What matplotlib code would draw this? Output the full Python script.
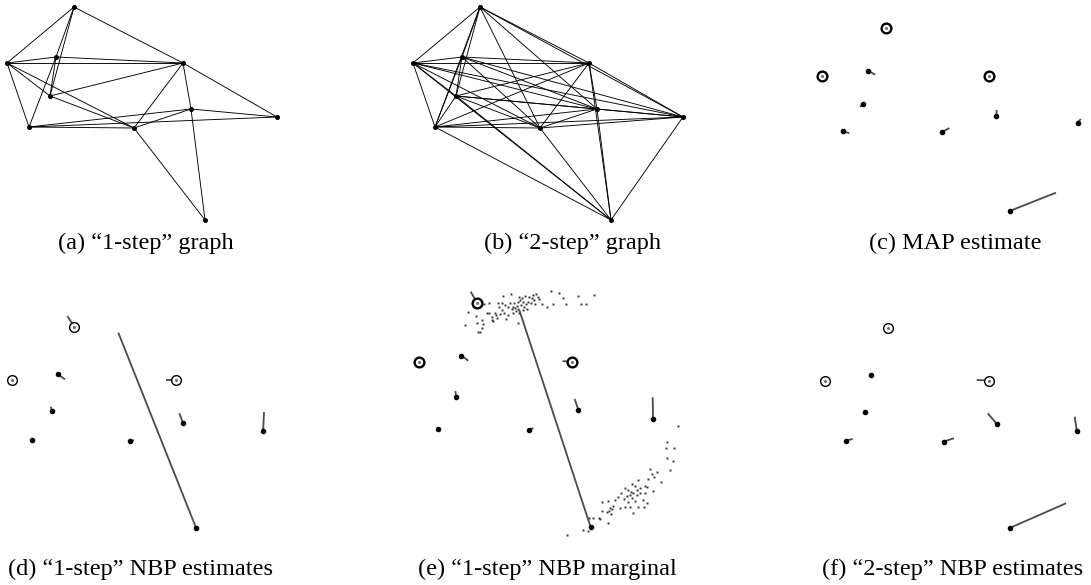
import numpy as np
import matplotlib.pyplot as plt

# --------------------------------------------------------
# Data: true sensor positions (common units, y grows downward)
# --------------------------------------------------------
node_x = [74, 7, 56, 183, 50, 29, 134, 191, 277, 205]
node_y = [7, 63, 57, 63, 96, 127, 128, 109, 117, 220]
anchors = [0, 1, 3]

# "1-step" connectivity (pairs of node indices)
edges_1step = [(0, 1), (0, 2), (0, 3), (0, 4), (1, 2), (1, 3), (1, 4), (1, 5),
               (1, 6), (2, 3), (2, 4), (2, 5), (3, 4), (3, 6), (3, 7), (3, 8),
               (4, 6), (5, 6), (5, 7), (5, 8), (6, 7), (6, 9), (7, 8), (7, 9)]

nan = np.nan
# location estimates (nan = same as true position)
map_est_x = [nan, nan, 63.2, nan, 47.0, 35.8, 141.2, 191.2, 279.9, 253.8]
map_est_y = [nan, nan, 61.3, nan, 98.6, 129.6, 123.4, 102.4, 112.9, 198.7]

nbp1_est_x = [66.5, nan, 64.0, 172.6, 48.6, nan, 138.2, 186.9, 278.0, 121.3]
nbp1_est_y = [-4.7, nan, 62.4, 63.1, 91.4, nan, 126.9, 98.4, 97.1, 13.0]

marg_est_x = [66.7, nan, 63.9, 172.8, 48.9, nan, 138.9, 186.6, 276.6, 122.7]
marg_est_y = [-3.7, nan, 61.9, 62.2, 90.7, nan, 125.9, 98.3, 96.7, 13.7]

nbp2_est_x = [nan, nan, nan, 169.6, 48.0, 36.7, 145.2, 181.3, 274.6, 265.3]
nbp2_est_y = [nan, nan, nan, 62.4, 98.6, 125.2, 124.5, 97.9, 101.5, 193.7]

# marginal samples of the bimodal sensor (panel e)
sample_x = [60.1, 63.2, 72.4, 73.6, 74.7, 79.3, 80.5, 80.1, 82.4, 85.1, 87.8, 88.2,
            90.9, 91.6, 92.8, 94.7, 95.9, 97.4, 98.5, 99.7, 100.5, 102.4, 102.8,
            104.3, 105.5, 106.2, 107.4, 109.3, 110.1, 112.0, 113.2, 113.9, 115.1,
            115.8, 116.6, 117.8, 118.9, 119.7, 120.8, 121.6, 122.4, 122.8, 123.5,
            124.3, 125.5, 126.6, 127.4, 128.5, 129.3, 130.5, 132.0, 133.1, 134.3,
            135.8, 137.0, 138.2, 140.1, 140.8, 142.0, 143.9, 145.8, 148.5, 154.3,
            159.3, 161.2, 168.9, 173.5, 176.6, 190.8, 193.5, 199.7, 209.3, 121.6,
            77.4,
            305.4, 293.5, 292.0, 301.6, 293.5, 300.4, 296.6, 273.5, 281.2, 275.4,
            278.5, 271.6, 285.8, 259.3, 252.3, 256.2, 267.7, 270.4, 262.0, 258.1,
            276.6, 244.6, 248.5, 251.6, 254.3, 258.1, 262.0, 267.7, 240.0, 246.6,
            250.4, 237.0, 243.9, 252.3, 256.2, 265.8, 270.4, 248.5, 244.6, 250.4,
            260.0, 267.0, 238.9, 233.1, 224.7, 217.7, 231.2, 227.3, 226.2, 230.0,
            223.5, 217.7, 228.1, 254.3, 215.0, 215.8, 207.3, 203.5, 224.7, 195.8,
            202.4, 177.4]
sample_y = [28.0, 15.9, 19.1, 26.4, 34.6, 23.2, 27.3, 31.1, 8.3, 16.9, 7.4, 16.2,
            23.2, 20.0, 24.2, 16.9, 18.5, 21.6, 6.7, 10.5, 17.8, 7.4, 13.7,
            0.4, 16.9, 9.0, 22.6, 18.5, 11.2, 7.4, -1.2, 13.1, 16.2,
            10.5, 6.7, 12.1, 14.3, 9.9, 5.8, 13.1, 1.0, 16.9, 4.2,
            9.0, 2.6, 13.7, 5.8, 10.5, 0.4, 8.0, 13.1, 5.8, 1.0,
            7.4, 2.6, -0.6, 4.2, 8.3, -1.5, 1.0, 3.6, 8.3, 11.2,
            -4.7, 8.3, -2.8, 2.0, 8.3, 0.4, 8.3, 8.3, -0.6, 26.4,
            34.9,
            123.6, 138.9, 145.2, 144.6, 154.1, 156.9, 165.8, 164.8, 167.4, 169.6,
            172.1, 174.7, 177.5, 175.3, 179.1, 181.0, 181.0, 182.3, 183.2, 184.8,
            185.4, 183.2, 184.8, 186.4, 188.0, 189.6, 188.0, 188.0, 188.0, 190.5,
            189.6, 191.2, 193.4, 192.7, 194.9, 194.3, 196.8, 196.5, 200.7, 201.3,
            200.7, 200.7, 202.2, 194.3, 194.9, 196.5, 200.0, 201.6, 204.8, 203.2,
            205.4, 204.8, 207.9, 207.0, 211.1, 212.7, 211.1, 211.1, 215.9, 222.8,
            223.8, 227.6]

captions = ["(a) \u201c1-step\u201d graph", "(b) \u201c2-step\u201d graph",
            "(c) MAP estimate", "(d) \u201c1-step\u201d NBP estimates",
            "(e) \u201c1-step\u201d NBP marginal", "(f) \u201c2-step\u201d NBP estimates"]

# --------------------------------------------------------
# Helpers
# --------------------------------------------------------
W, H = 1091, 585
fig = plt.figure(figsize=(W / 100, H / 100), dpi=100)
plt.rcParams['font.family'] = ['Liberation Serif', 'DejaVu Serif']


def two_step(edges, n):
    """Pairs of nodes that are at most two hops apart."""
    adj = [set() for _ in range(n)]
    for i, j in edges:
        adj[i].add(j)
        adj[j].add(i)
    out = set()
    for i in range(n):
        reach = set(adj[i])
        for k in adj[i]:
            reach |= adj[k]
        for j in reach:
            if j > i:
                out.add((i, j))
    return sorted(out)


def make_axes(box, mapping):
    """Axes on a pixel box; mapping = (x0, sx, y0, sy) from data units to pixels."""
    L, T, R, B = box
    x0, sx, y0, sy = mapping
    ax = fig.add_axes([L / W, 1 - B / H, (R - L) / W, (B - T) / H])
    ax.set_xlim((L - x0) / sx, (R - x0) / sx)
    ax.set_ylim((B - y0) / sy, (T - y0) / sy)
    ax.axis('off')
    return ax


def draw_graph(ax, edges):
    for i, j in edges:
        ax.plot([node_x[i], node_x[j]], [node_y[i], node_y[j]],
                color='black', lw=0.65, solid_capstyle='round')
    ax.plot(node_x, node_y, 'o', color='black', ms=2.6, zorder=3)


def draw_estimates(ax, ex, ey, ring_lw):
    for i in range(len(node_x)):
        if not np.isnan(ex[i]):
            ax.plot([node_x[i], ex[i]], [node_y[i], ey[i]],
                    color='#4a4a4a', lw=1.3, solid_capstyle='butt', zorder=2)
    sensors = [i for i in range(len(node_x)) if i not in anchors]
    ax.plot([node_x[i] for i in sensors], [node_y[i] for i in sensors], 'o',
            color='black', ms=3.0, zorder=3)
    ax.plot([node_x[i] for i in anchors], [node_y[i] for i in anchors], 'o',
            mfc='white', mec='black', mew=ring_lw, ms=7, zorder=4)
    ax.plot([node_x[i] for i in anchors], [node_y[i] for i in anchors], 'o',
            color='#707070', ms=1.2, zorder=5)


# --------------------------------------------------------
# Panels
# --------------------------------------------------------
ax_a = make_axes((0, 0, 290, 232), (0, 1.0, 0, 1.0))
draw_graph(ax_a, edges_1step)

ax_b = make_axes((400, 0, 700, 232), (406, 1.0, 0, 1.0))
draw_graph(ax_b, two_step(edges_1step, len(node_x)))

ax_c = make_axes((800, 0, 1091, 232), (815.4, 0.948, 22.0, 0.859))
draw_estimates(ax_c, map_est_x, map_est_y, 1.7)

ax_d = make_axes((0, 285, 290, 545), (5.5, 0.930, 320.4, 0.944))
draw_estimates(ax_d, nbp1_est_x, nbp1_est_y, 1.0)

ax_e = make_axes((400, 285, 700, 545), (412.9, 0.867, 295.6, 1.052))
ax_e.plot(sample_x, sample_y, 's', color='#333333', ms=1.4, mew=0, zorder=1)
draw_estimates(ax_e, marg_est_x, marg_est_y, 1.7)

ax_f = make_axes((800, 285, 1091, 545), (818.5, 0.933, 321.4, 0.939))
draw_estimates(ax_f, nbp2_est_x, nbp2_est_y, 1.0)

# captions
cap_x = [146, 572, 955, 140, 547, 953]
cap_y = [243, 243, 243, 569, 569, 569]
for txt, cx, cy in zip(captions, cap_x, cap_y):
    fig.text(cx / W, 1 - cy / H, txt, ha='center', va='center', fontsize=17.5)

fig.savefig('out.png', dpi=100)
